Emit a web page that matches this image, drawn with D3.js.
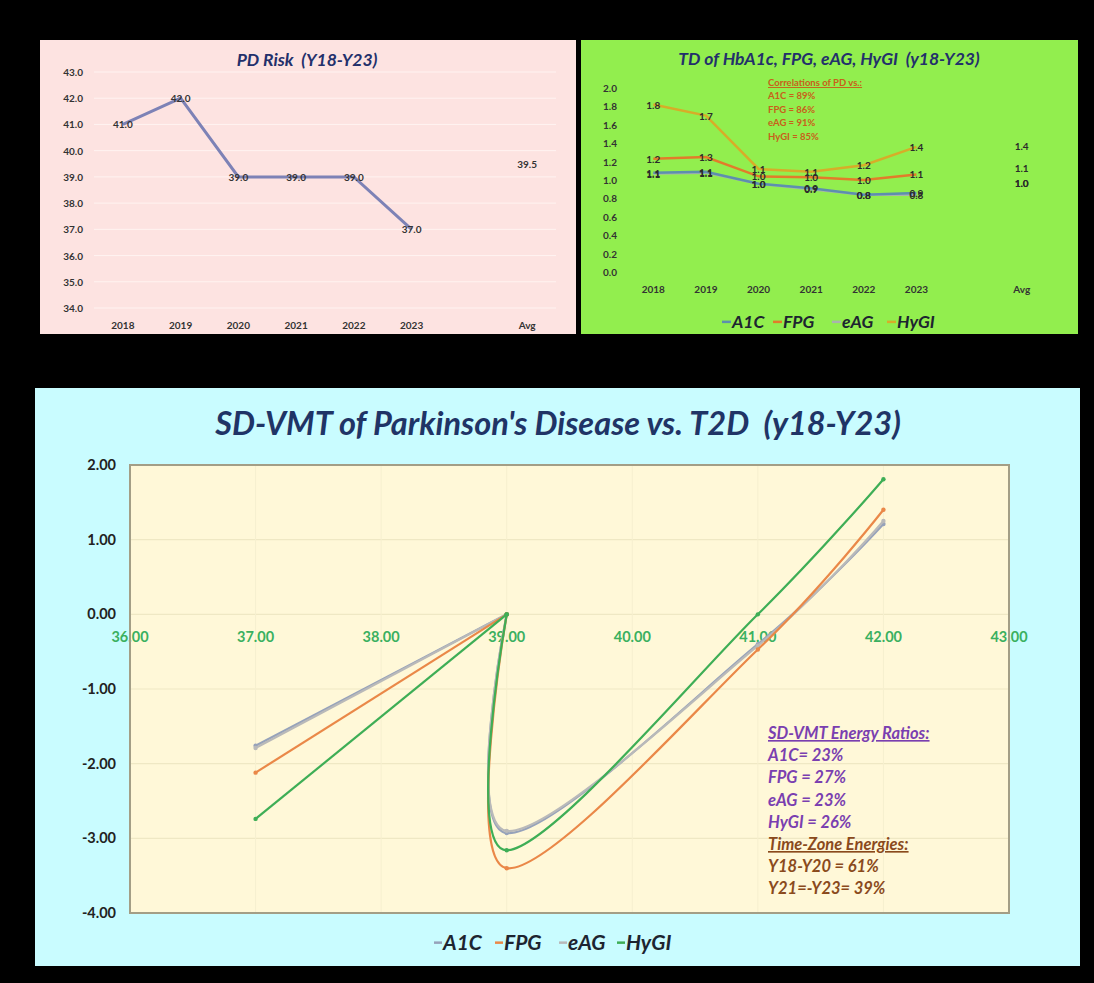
<!DOCTYPE html>
<html>
<head>
<meta charset="utf-8">
<script src="https://cdn.jsdelivr.net/npm/d3@7"></script>
<style>
  body { margin: 0; background: #000; }
  svg { display: block; font-family: Lato, "Open Sans", "Liberation Sans", Arial, sans-serif; }
  text { white-space: pre; }
</style>
</head>
<body>
<svg id="chart" width="1094" height="983"></svg>
<script>
// ---- data ----
const years = ["2018", "2019", "2020", "2021", "2022", "2023", "", "Avg"];

const pdRisk = [41, 42, 39, 39, 39, 37];
const pdAvg = 39.5;
const pdTicks = [34, 35, 36, 37, 38, 39, 40, 41, 42, 43];

const tdNames = ["A1C", "FPG", "eAG", "HyGI"];
const a1cTD = [1.08, 1.09, 0.96, 0.91, 0.84, 0.86];
const fpgTD = [1.23, 1.25, 1.04, 1.03, 1.00, 1.06];
const eagTD = [1.07, 1.08, 0.96, 0.90, 0.84, 0.84];
const hygiTD = [1.82, 1.70, 1.12, 1.09, 1.16, 1.36];
const tdAvg = [0.97, 1.13, 0.97, 1.37];
const tdTicks = [0, 0.2, 0.4, 0.6, 0.8, 1.0, 1.2, 1.4, 1.6, 1.8, 2.0];
const corrLines = ["Correlations of PD vs.:", "A1C = 89%", "FPG = 86%", "eAG = 91%", "HyGI = 85%"];

// SD-VMT scatter: x = PD risk (sorted), y = SD values per series
const pdSorted = [37, 39, 39, 39, 41, 42];
const a1cSD = [-1.76, 0, 0, -2.93, -0.40, 1.21];
const fpgSD = [-2.12, 0, 0, -3.40, -0.47, 1.40];
const eagSD = [-1.79, 0, 0, -2.90, -0.42, 1.25];
const hygiSD = [-2.74, 0, 0, -3.16, 0.00, 1.81];
const sdXTicks = [36, 37, 38, 39, 40, 41, 42, 43];
const sdYTicks = [-4, -3, -2, -1, 0, 1, 2];
const energyLines = ["SD-VMT Energy Ratios:", "A1C= 23%", "FPG = 27%", "eAG = 23%", "HyGI = 26%",
                     "Time-Zone Energies:", "Y18-Y20 = 61%", "Y21=-Y23= 39%"];

const svg = d3.select("#chart");
svg.append("rect").attr("width", 1094).attr("height", 983).attr("fill", "#000");

drawPdRisk();
drawTD();
drawSD();

function drawPdRisk() {
    const g = svg.append("g");
    g.append("rect").attr("x", 40).attr("y", 40).attr("width", 536).attr("height", 294).attr("fill", "#fde3e1");

    const x = d3.scaleBand().domain(years).range([94, 556]);
    const y = d3.scaleLinear().domain([34, 43]).range([308, 72]);
    const cx = d => x(d) + x.bandwidth() / 2;

    g.selectAll(".grid").data(pdTicks).join("line")
        .attr("x1", 94).attr("x2", 556)
        .attr("y1", d => y(d)).attr("y2", d => y(d))
        .attr("stroke", "#fff3f1").attr("stroke-width", 1);

    g.selectAll(".ytick").data(pdTicks).join("text")
        .attr("x", 83).attr("y", d => y(d) + 4)
        .attr("text-anchor", "end").attr("font-size", 10).attr("font-weight", "bold").attr("fill", "#333")
        .text(d => d.toFixed(1));

    g.selectAll(".xtick").data(years).join("text")
        .attr("x", d => cx(d)).attr("y", 329)
        .attr("text-anchor", "middle").attr("font-size", 10).attr("font-weight", "bold").attr("fill", "#333")
        .text(d => d);

    const pts = pdRisk.map((v, i) => [cx(years[i]), y(v)]);
    g.append("path").attr("d", d3.line()(pts))
        .attr("fill", "none").attr("stroke", "#7d82b6").attr("stroke-width", 3);

    g.selectAll(".lbl").data(pdRisk).join("text")
        .attr("x", (d, i) => cx(years[i])).attr("y", d => y(d) + 4)
        .attr("text-anchor", "middle").attr("font-size", 10).attr("font-weight", "bold").attr("fill", "#333")
        .text(d => d.toFixed(1));

    g.append("text").attr("x", cx("Avg")).attr("y", y(pdAvg) + 4)
        .attr("text-anchor", "middle").attr("font-size", 10).attr("font-weight", "bold").attr("fill", "#333")
        .text(pdAvg.toFixed(1));

    g.append("text").attr("x", 307).attr("y", 66)
        .attr("text-anchor", "middle").attr("font-size", 17.5).attr("font-weight", "bold")
        .attr("font-style", "italic").attr("fill", "#23306b")
        .text("PD Risk  (Y18-Y23)");
}

function drawTD() {
    const g = svg.append("g");
    g.append("rect").attr("x", 581).attr("y", 40).attr("width", 497).attr("height", 294).attr("fill", "#92ee4e");

    const x = d3.scaleBand().domain(years).range([627, 1048]);
    const y = d3.scaleLinear().domain([0, 2]).range([272, 88]);
    const cx = d => x(d) + x.bandwidth() / 2;
    const colors = ["#5d8fae", "#e27c2a", "#a9b3ae", "#d7ad28"];
    const series = [a1cTD, fpgTD, eagTD, hygiTD];

    g.selectAll(".ytick").data(tdTicks).join("text")
        .attr("x", 617).attr("y", d => y(d) + 4)
        .attr("text-anchor", "end").attr("font-size", 10).attr("font-weight", "bold").attr("fill", "#333")
        .text(d => d.toFixed(1));

    g.selectAll(".xtick").data(years).join("text")
        .attr("x", d => cx(d)).attr("y", 293)
        .attr("text-anchor", "middle").attr("font-size", 10).attr("font-weight", "bold").attr("fill", "#333")
        .text(d => d);

    // draw eAG under A1C like the picture
    [2, 0, 1, 3].forEach(k => {
        const pts = series[k].map((v, i) => [cx(years[i]), y(v)]);
        g.append("path").attr("d", d3.line()(pts))
            .attr("fill", "none").attr("stroke", colors[k]).attr("stroke-width", 2.5);
    });

    [2, 0, 1, 3].forEach(k => {
        g.selectAll(".lbl" + k).data(series[k]).join("text")
            .attr("x", (d, i) => cx(years[i])).attr("y", d => y(d) + 4)
            .attr("text-anchor", "middle").attr("font-size", 10).attr("font-weight", "bold").attr("fill", "#2b2b2b")
            .text(d => d.toFixed(1));
        g.append("text").attr("x", cx("Avg")).attr("y", y(tdAvg[k]) + 4)
            .attr("text-anchor", "middle").attr("font-size", 10).attr("font-weight", "bold").attr("fill", "#2b2b2b")
            .text(tdAvg[k].toFixed(1));
    });

    g.selectAll(".corr").data(corrLines).join("text")
        .attr("x", 768).attr("y", (d, i) => 86 + i * 13.4)
        .attr("font-size", 9.5).attr("font-weight", "bold").attr("fill", "#c8601a")
        .attr("text-decoration", (d, i) => i === 0 ? "underline" : null)
        .text(d => d);

    g.append("text").attr("x", 829).attr("y", 65)
        .attr("text-anchor", "middle").attr("font-size", 17.5).attr("font-weight", "bold")
        .attr("font-style", "italic").attr("fill", "#23306b")
        .text("TD of HbA1c, FPG, eAG, HyGI  (y18-Y23)");

    drawLegend(g, 722, 328, [0, 51, 110, 165], colors, 17.5, 9);
}

function drawSD() {
    const g = svg.append("g");
    g.append("rect").attr("x", 35).attr("y", 388).attr("width", 1045).attr("height", 578).attr("fill", "#c9fcff");

    const x = d3.scaleLinear().domain([36, 43]).range([130, 1009]);
    const y = d3.scaleLinear().domain([-4, 2]).range([913, 465]);
    const colors = ["#96a2ba", "#ea8848", "#b9b9b9", "#3eae56"];
    const series = [a1cSD, fpgSD, eagSD, hygiSD];

    g.append("rect").attr("x", x(36)).attr("y", y(2)).attr("width", x(43) - x(36)).attr("height", y(-4) - y(2))
        .attr("fill", "#fff8d8");

    g.selectAll(".hgrid").data(sdYTicks).join("line")
        .attr("x1", x(36)).attr("x2", x(43)).attr("y1", d => y(d)).attr("y2", d => y(d))
        .attr("stroke", "#efe8c4").attr("stroke-width", 1.2);
    g.selectAll(".vgrid").data(sdXTicks).join("line")
        .attr("x1", d => x(d)).attr("x2", d => x(d)).attr("y1", y(2)).attr("y2", y(-4))
        .attr("stroke", "#f6efcf").attr("stroke-width", 1);

    g.selectAll(".ytick").data(sdYTicks).join("text")
        .attr("x", 116).attr("y", d => y(d) + 5)
        .attr("text-anchor", "end").attr("font-size", 14.5).attr("font-weight", "bold").attr("fill", "#222")
        .text(d => d.toFixed(2));

    g.selectAll(".xtick").data(sdXTicks).join("text")
        .attr("x", d => x(d)).attr("y", y(0) + 28)
        .attr("text-anchor", "middle").attr("font-size", 14.5).attr("font-weight", "bold").attr("fill", "#3ab060")
        .text(d => d.toFixed(2));

    // Excel-style smoothing: the repeated 39 point gives a corner, so the
    // first leg is straight and the rest is a cardinal (tension 0) spline
    const straight = d3.line().x(d => x(d[0])).y(d => y(d[1]));
    const smooth = d3.line().x(d => x(d[0])).y(d => y(d[1])).curve(d3.curveCardinal.tension(0));
    [0, 2, 1, 3].forEach(k => {
        const pts = pdSorted.map((v, i) => [v, series[k][i]]);
        g.append("path").attr("d", straight(pts.slice(0, 2)))
            .attr("fill", "none").attr("stroke", colors[k]).attr("stroke-width", 2.2);
        g.append("path").attr("d", smooth(pts.slice(2)))
            .attr("fill", "none").attr("stroke", colors[k]).attr("stroke-width", 2.2);
        g.selectAll(".m" + k).data(pts).join("circle")
            .attr("cx", d => x(d[0])).attr("cy", d => y(d[1])).attr("r", 2.2)
            .attr("fill", colors[k]);
    });

    g.append("rect").attr("x", x(36)).attr("y", y(2)).attr("width", x(43) - x(36)).attr("height", y(-4) - y(2))
        .attr("fill", "none").attr("stroke", "#a39e86").attr("stroke-width", 2);

    g.selectAll(".energy").data(energyLines).join("text")
        .attr("x", 768).attr("y", (d, i) => 739 + i * 22.2)
        .attr("font-size", 16.5).attr("font-weight", "bold").attr("font-style", "italic")
        .attr("fill", (d, i) => i < 5 ? "#7a3fb0" : "#8a4a1c")
        .attr("text-decoration", (d, i) => (i === 0 || i === 5) ? "underline" : null)
        .text(d => d);

    g.append("text").attr("x", 558).attr("y", 435)
        .attr("text-anchor", "middle").attr("font-size", 32.5).attr("font-weight", "bold")
        .attr("font-style", "italic").attr("fill", "#1f3466")
        .text("SD-VMT of Parkinson's Disease vs. T2D  (y18-Y23)");

    drawLegend(g, 434, 950, [0, 61, 125, 183], colors, 21, 8);
}

function drawLegend(g, x0, yBase, offsets, colors, size, seg) {
    tdNames.forEach((name, i) => {
        const xx = x0 + offsets[i];
        g.append("line").attr("x1", xx).attr("x2", xx + seg)
            .attr("y1", yBase - size * 0.35).attr("y2", yBase - size * 0.35)
            .attr("stroke", colors[i]).attr("stroke-width", 2.5);
        g.append("text").attr("x", xx + seg + 1).attr("y", yBase)
            .attr("font-size", size).attr("font-weight", "bold").attr("font-style", "italic")
            .attr("fill", "#1d2430").text(name);
    });
}
</script>
</body>
</html>
